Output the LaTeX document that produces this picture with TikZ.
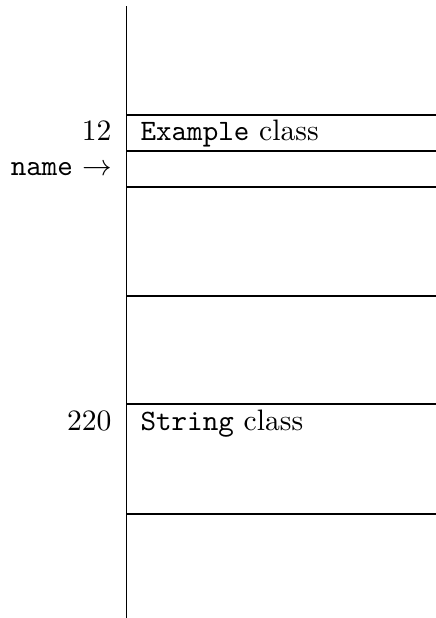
\documentclass[tikz,border=0pt]{standalone}
\begin{document}
\begin{tikzpicture}[x=0.3378pt,y=-0.3378pt,
  rule/.style={line width=0.4pt},
  cell/.style={anchor=base west,inner sep=0pt},
  addr/.style={anchor=base east,inner sep=0pt}]
  \useasboundingbox (0,0) rectangle (436,618);
  % memory column: left edge and cell boundaries
  \draw[rule] (126.5,6) -- (126.5,618);
  \foreach \y in {115,151,187,296,404,514}
    \draw[rule] (126.5,\y) -- (436,\y);
  % cell contents
  \node[cell] (ex) at (140,140) {\texttt{Example} class};
  \node[cell] (st) at (140,430) {\texttt{String} class};
  % addresses and the variable pointing into memory
  \node[addr] (a12) at (112,140) {12};
  \node[addr] (nm) at (113,175) {\texttt{name} $\rightarrow$};
  \node[addr] (a220) at (112,430) {220};
\end{tikzpicture}
\end{document}
